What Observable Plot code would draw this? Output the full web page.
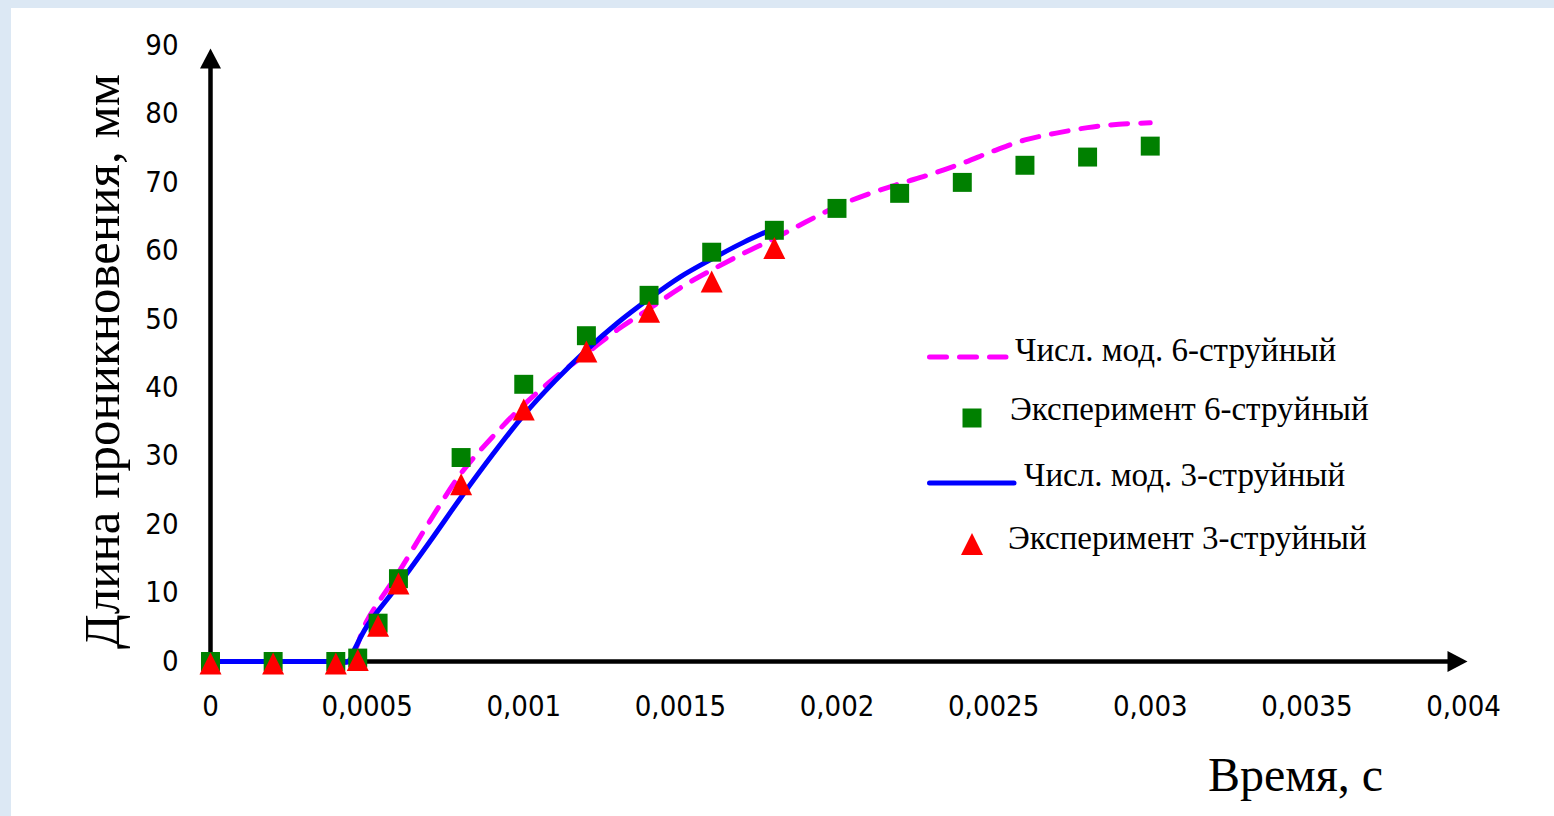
<!DOCTYPE html>
<html>
<head>
<meta charset="utf-8">
<script src="https://cdn.jsdelivr.net/npm/d3@7"></script>
<script src="https://cdn.jsdelivr.net/npm/@observablehq/plot@0.6"></script>
<style>
  html, body { margin: 0; padding: 0; background: #dce8f4; overflow: hidden; }
  #panel { position: absolute; left: 11px; top: 8px; width: 1543px; height: 808px; background: #ffffff; }
  #legend { position: absolute; left: 0; top: 0; font-family: "Liberation Serif", "Times New Roman", serif; font-size: 33px; color: #000; }
  .lg { position: absolute; white-space: nowrap; }
  .sym { position: absolute; overflow: visible; }
</style>
</head>
<body>
<div id="panel"></div>
<script>
// ---- data ----
const xTicks = [0, 0.0005, 0.001, 0.0015, 0.002, 0.0025, 0.003, 0.0035, 0.004];
const yTicks = [0, 10, 20, 30, 40, 50, 60, 70, 80, 90];

// Numerical model, 6-jet (magenta dashed)
const num6X = [0, 0.0002, 0.0004, 0.00044, 0.0005, 0.0006, 0.0007, 0.0008, 0.0009, 0.001, 0.0011, 0.0012, 0.0013, 0.0014, 0.0015, 0.0016, 0.0017, 0.0018, 0.0019, 0.002, 0.0021, 0.0022, 0.0023, 0.0024, 0.0025, 0.0026, 0.0027, 0.0028, 0.0029, 0.003];
const num6Y = [0, 0, 0, 0, 6, 13, 20.5, 27.5, 32.8, 37.5, 41.5, 45, 48.5, 51.5, 54.6, 57.2, 59.6, 61.8, 64.2, 66.5, 68.3, 69.8, 71.2, 72.8, 74.6, 76.2, 77.2, 78, 78.5, 78.7];

// Experiment, 6-jet (green squares)
const exp6X = [0, 0.0002, 0.0004, 0.00047, 0.000535, 0.0006, 0.0008, 0.001, 0.0012, 0.0014, 0.0016, 0.0018, 0.002, 0.0022, 0.0024, 0.0026, 0.0028, 0.003];
const exp6Y = [0, 0, 0, 0.5, 5.6, 12.1, 29.8, 40.5, 47.6, 53.5, 59.8, 63, 66.2, 68.4, 70, 72.5, 73.7, 75.3];

// Numerical model, 3-jet (blue solid)
const num3X = [0, 0.0002, 0.0004, 0.00044, 0.00046, 0.0005, 0.0006, 0.0007, 0.0008, 0.0009, 0.001, 0.0011, 0.0012, 0.0013, 0.0014, 0.0015, 0.0016, 0.0017, 0.0018];
const num3Y = [0, 0, 0, 0, 1.8, 5.2, 11.2, 17.5, 24, 30.2, 36, 41, 45.5, 49.5, 53, 56.2, 58.8, 61.2, 63.3];

// Experiment, 3-jet (red triangles)
const exp3X = [0, 0.0002, 0.0004, 0.00047, 0.000535, 0.0006, 0.0008, 0.001, 0.0012, 0.0014, 0.0016, 0.0018];
const exp3Y = [0, 0, 0, 0.5, 5.5, 11.7, 26.2, 37.1, 45.6, 51.4, 55.8, 60.7];

const legendLabels = ["Числ. мод. 6-струйный", "Эксперимент 6-струйный", "Числ. мод. 3-струйный", "Эксперимент 3-струйный"];
const xTitle = "Время, с";
const yTitle = "Длина проникновения, мм";

// ---- build tables ----
const zip = (xs, ys) => xs.map((x, i) => ({x, y: ys[i]}));
const num6 = zip(num6X, num6Y);
const exp6 = zip(exp6X, exp6Y);
const num3 = zip(num3X, num3Y);
const exp3 = zip(exp3X, exp3Y);

// custom symbols
const triSym = { draw(ctx) { const w = 11, h = 11; ctx.moveTo(0, -h); ctx.lineTo(w, h); ctx.lineTo(-w, h); ctx.closePath(); } };
const arrowUp = { draw(ctx) { ctx.moveTo(0, -20); ctx.lineTo(10.5, 0); ctx.lineTo(-10.5, 0); ctx.closePath(); } };
const arrowRight = { draw(ctx) { ctx.moveTo(20, 0); ctx.lineTo(0, 10.5); ctx.lineTo(0, -10.5); ctx.closePath(); } };

const tickFont = "'DejaVu Sans Condensed', 'DejaVu Sans', sans-serif";
const fmt = d => String(d).replace(".", ",");

const W = 1543, H = 808;
const chart = Plot.plot({
  width: W,
  height: H,
  marginLeft: 199,
  marginRight: 91,
  marginTop: 37,
  marginBottom: 155,
  style: { background: "transparent", overflow: "visible" },
  x: { domain: [0, 0.004] },
  y: { domain: [0, 90] },
  marks: [
    Plot.axisX({ ticks: xTicks, tickSize: 0, tickPadding: 34, tickFormat: fmt, fontSize: 29, fontFamily: tickFont, fill: "#000", label: null }),
    Plot.axisY({ ticks: yTicks, tickSize: 0, tickPadding: 32, tickFormat: fmt, fontSize: 29, fontFamily: tickFont, fill: "#000", label: null }),
    Plot.ruleY([0], { stroke: "#000", strokeWidth: 4.5, x1: 0, x2: 0.004 }),
    Plot.ruleX([0], { stroke: "#000", strokeWidth: 4.5, y1: 0, y2: 87 }),
    Plot.dot([{x: 0, y: 90}], { x: "x", y: "y", symbol: arrowUp, fill: "#000", stroke: null, r: 1, dy: 23 }),
    Plot.dot([{x: 0.004, y: 0}], { x: "x", y: "y", symbol: arrowRight, fill: "#000", stroke: null, r: 1, dx: -16 }),
    Plot.line(num6, { x: "x", y: "y", stroke: "#ff00ff", strokeWidth: 5, strokeDasharray: "17 13", strokeLinecap: "round", curve: "catmull-rom" }),
    Plot.line(num3, { x: "x", y: "y", stroke: "#0000ff", strokeWidth: 5, strokeLinecap: "round", curve: "catmull-rom" }),
    Plot.dot(exp6, { x: "x", y: "y", symbol: "square", r: 10.7, fill: "#008000", stroke: null }),
    Plot.dot(exp3, { x: "x", y: "y", symbol: triSym, r: 1, fill: "#ff0000", stroke: null, dy: 2 }),
    Plot.text([yTitle], { frameAnchor: "left", rotate: -90, lineAnchor: "bottom", textAnchor: "middle", dx: -92, dy: 8, fontSize: 51, fontFamily: "'Liberation Serif', 'Times New Roman', serif", fill: "#000" }),
    Plot.text([xTitle], { frameAnchor: "bottom-right", lineAnchor: "bottom", textAnchor: "middle", dx: -168, dy: 129, fontSize: 48, fontFamily: "'Liberation Serif', 'Times New Roman', serif", fill: "#000" })
  ]
});
const panel = document.getElementById("panel");
panel.appendChild(chart);

// ---- legend (HTML overlay, positions relative to panel) ----
const legend = document.createElement("div");
legend.id = "legend";
const ox = 11, oy = 8; // panel offset on the page
const entries = [
  { label: legendLabels[0], textX: 1015, base: 363, sym: "dash", symY: 357 },
  { label: legendLabels[1], textX: 1010, base: 422, sym: "square", symY: 418 },
  { label: legendLabels[2], textX: 1024, base: 488, sym: "solid", symY: 483 },
  { label: legendLabels[3], textX: 1008, base: 551, sym: "tri", symY: 544 }
];
const NS = "http://www.w3.org/2000/svg";
for (const e of entries) {
  const s = document.createElementNS(NS, "svg");
  s.setAttribute("class", "sym");
  s.setAttribute("width", 120); s.setAttribute("height", 40);
  s.style.left = (920 - ox) + "px";
  s.style.top = (e.symY - 20 - oy) + "px";
  let el;
  if (e.sym === "dash" || e.sym === "solid") {
    el = document.createElementNS(NS, "line");
    el.setAttribute("x1", 9.5); el.setAttribute("x2", e.sym === "dash" ? 86 : 94);
    el.setAttribute("y1", 20); el.setAttribute("y2", 20);
    el.setAttribute("stroke", e.sym === "dash" ? "#ff00ff" : "#0000ff");
    el.setAttribute("stroke-width", 5);
    el.setAttribute("stroke-linecap", "round");
    if (e.sym === "dash") el.setAttribute("stroke-dasharray", "17 13");
  } else if (e.sym === "square") {
    el = document.createElementNS(NS, "rect");
    el.setAttribute("x", 52 - 9.5); el.setAttribute("y", 20 - 9.5);
    el.setAttribute("width", 19); el.setAttribute("height", 19);
    el.setAttribute("fill", "#008000");
  } else {
    el = document.createElementNS(NS, "path");
    el.setAttribute("d", "M52,9 L63,31 L41,31 Z");
    el.setAttribute("fill", "#ff0000");
  }
  s.appendChild(el);
  legend.appendChild(s);
  const t = document.createElement("div");
  t.className = "lg";
  t.textContent = e.label;
  t.style.left = (e.textX - ox) + "px";
  t.style.top = (e.base - oy - 33 * 0.891) + "px";
  t.style.lineHeight = "33px";
  legend.appendChild(t);
}
panel.appendChild(legend);
</script>
</body>
</html>
